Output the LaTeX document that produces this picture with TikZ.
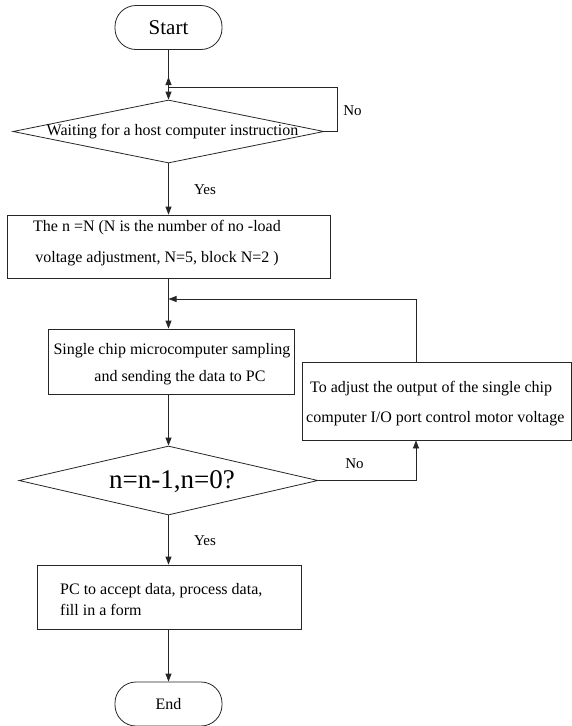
\documentclass[tikz,border=0pt]{standalone}
\usepackage{fontspec}
\setmainfont{Liberation Serif}
\usetikzlibrary{arrows.meta,shapes.geometric}
\begin{document}
\begin{tikzpicture}[x=1pt,y=-1pt,
  line/.style={draw=black!85, line width=0.8pt},
  arr/.style={line, -{Triangle[length=8pt,width=6pt]}},
  term/.style={line, rounded corners=21pt, minimum width=107pt, minimum height=44pt, inner sep=0pt},
  procbox/.style={line, rectangle, inner sep=0pt},
  dia/.style={line, diamond, inner sep=0pt},
  txt/.style={font=\fontsize{16}{19}\selectfont, inner sep=0pt},
  lbl/.style={font=\fontsize{15}{18}\selectfont, inner sep=0pt}]
\useasboundingbox (0,0) rectangle (572,726);

% nodes
\node[term, font=\fontsize{21}{24}\selectfont] (start) at (168.5,27.5) {Start};
\coordinate (j1) at (168.5,87);
\coordinate (jup) at (168.5,77);
\node[dia, minimum width=311pt, minimum height=63pt] (d1) at (168.5,131.5) {};
\node[txt] (d1t) at (172.5,132) {Waiting for a host computer instruction};
\coordinate (loop1) at (337,87);

\node[procbox, minimum width=323pt, minimum height=63pt] (b2) at (168.5,246.5) {};
\node[txt, font=\fontsize{16}{31}\selectfont, align=center] (b2t) at (157,243) {The n =N (N is the number of no -load\\voltage adjustment, N=5, block N=2 )};

\coordinate (j2) at (168.5,299);
\coordinate (loopx) at (416,0);

\node[procbox, minimum width=246pt, minimum height=65pt] (b3) at (171,361.5) {};
\node[txt, font=\fontsize{16}{27}\selectfont, align=center] (b3t) at (172,364) {Single chip microcomputer sampling\\\hspace{16pt}and sending the data to PC};

\node[procbox, minimum width=269pt, minimum height=78pt] (b4) at (436.5,401) {};
\node[txt, font=\fontsize{16}{30}\selectfont, align=left, anchor=west] (b4t) at (306,403.5) {\hspace{4pt}To adjust the output of the single chip\\computer I/O port control motor voltage};

\node[dia, minimum width=299pt, minimum height=69pt] (d2) at (168.5,480.5) {};
\node[font=\fontsize{27}{30}\selectfont, inner sep=0pt] (d2t) at (172,482) {n=n-1,n=0?};

\node[procbox, minimum width=264pt, minimum height=64pt] (b5) at (169,597) {};
\node[txt, font=\fontsize{16}{21}\selectfont, align=left, anchor=west] (b5t) at (60,600) {PC to accept data, process data,\\fill in a form};

\node[term, font=\fontsize{16}{19}\selectfont] (end) at (168.5,704) {End};

% labels
\node[lbl] (no1) at (352.5,111) {No};
\node[lbl] (yes1) at (205,190) {Yes};
\node[lbl] (no2) at (354.5,464) {No};
\node[lbl] (yes2) at (205,541) {Yes};

% connectors
\draw[line] (start.south) -- (j1);
\draw[arr] (j1) -- (jup);
\draw[arr] (j1) -- (d1.north);
\draw[line] (d1.east) -| (loop1) -- (j1);
\draw[arr] (d1.south) -- (b2.north -| d1.south);
\draw[line] (b2.south -| j2) -- (j2);
\draw[arr] (j2) -- (b3.north -| j2);
\draw[arr] (b4.north -| loopx) |- (j2);
\draw[arr] (b3.south -| d2.north) -- (d2.north);
\draw[arr] (d2.east) -| (b4.south -| loopx);
\draw[arr] (d2.south) -- (b5.north -| d2.south);
\draw[arr] (b5.south -| end.north) -- (end.north);
\end{tikzpicture}
\end{document}
